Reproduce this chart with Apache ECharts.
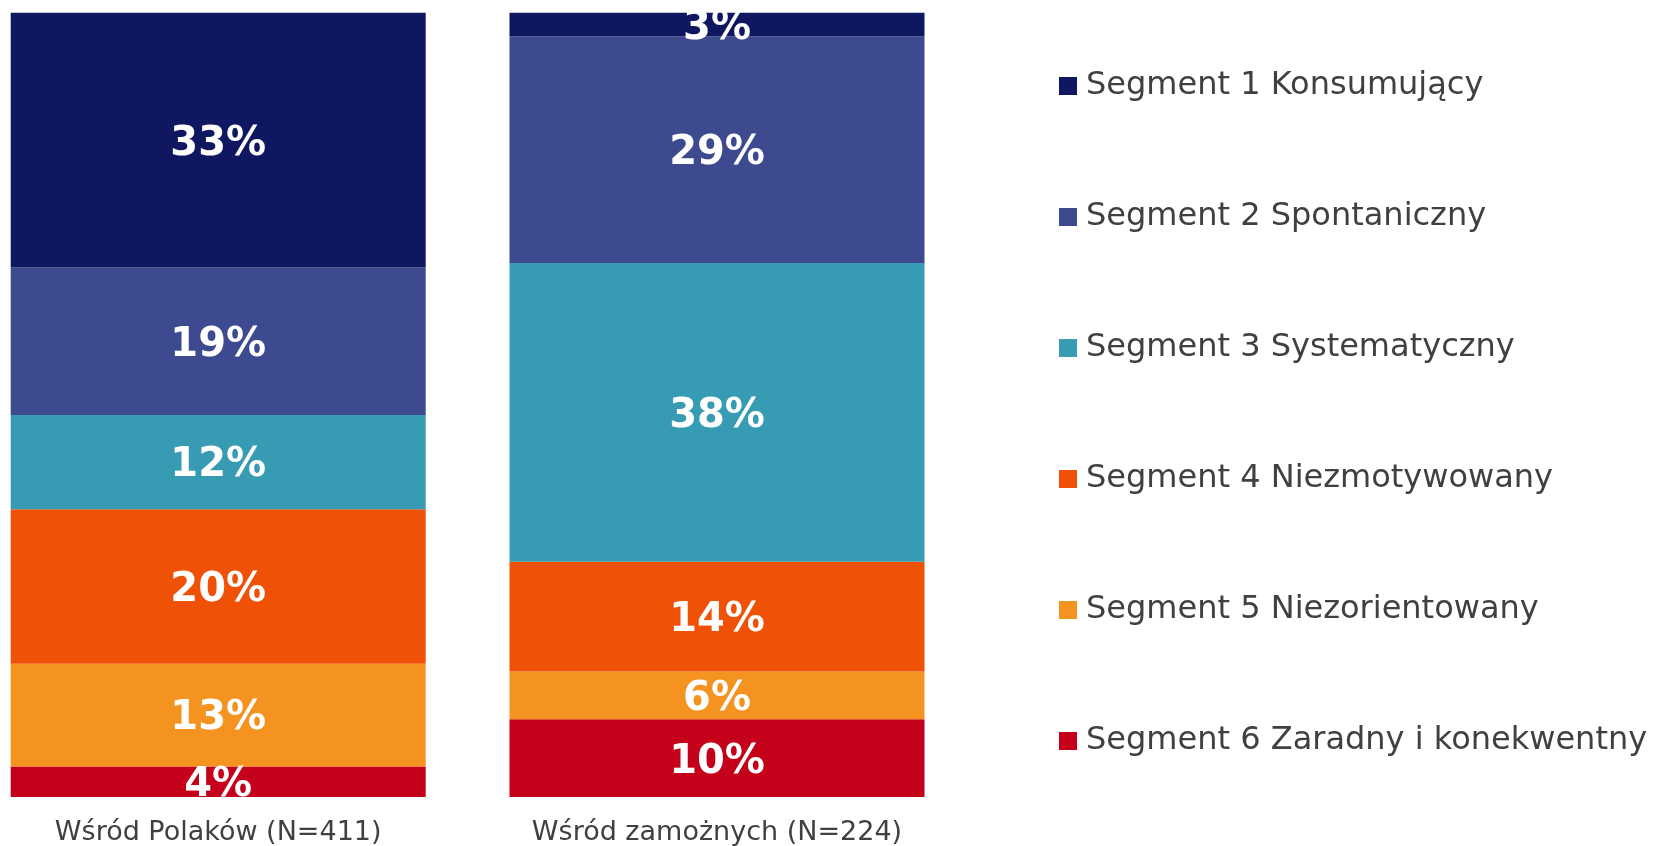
<!DOCTYPE html>
<html>
<head>
<meta charset="utf-8">
<script src="https://cdn.jsdelivr.net/npm/echarts@6/dist/echarts.min.js"></script>
<style>
html,body{margin:0;padding:0;background:#fff;}
#chart{width:1655px;height:846px;}
</style>
</head>
<body>
<div id="chart"></div>
<script>
var categories = ['Wśród Polaków (N=411)', 'Wśród zamożnych (N=224)'];
var segmentNames = ['Segment 1 Konsumujący', 'Segment 2 Spontaniczny', 'Segment 3 Systematyczny', 'Segment 4 Niezmotywowany', 'Segment 5 Niezorientowany', 'Segment 6 Zaradny i konekwentny'];
var segment1 = [32.6, 3.0];
var segment2 = [18.8, 28.9];
var segment3 = [12.0, 38.1];
var segment4 = [19.7, 14.0];
var segment5 = [13.1, 6.1];
var segment6 = [3.9, 9.9];
var segmentColors = ['#0f1760', '#3e4a90', '#379cb3', '#ef5206', '#f59321', '#c4001a'];

var allData = [segment1, segment2, segment3, segment4, segment5, segment6];
var series = [];
for (var i = allData.length - 1; i >= 0; i--) {
  series.push({
    name: segmentNames[i],
    type: 'bar',
    stack: 'total',
    barWidth: 415,
    data: allData[i],
    itemStyle: { color: segmentColors[i] },
    label: {
      show: true,
      position: 'inside',
      offset: [0, 4],
      color: '#ffffff',
      fontFamily: 'DejaVu Sans',
      fontWeight: 'bold',
      fontSize: 40,
      formatter: function (p) { return Math.round(p.value) + '%'; }
    }
  });
}

var chart = echarts.init(document.getElementById('chart'));
chart.setOption({
  animation: false,
  backgroundColor: '#ffffff',
  grid: { left: 218.2, top: 12.7, width: 498.8, bottom: 49, containLabel: false, outerBoundsMode: 'none' },
  xAxis: {
    type: 'category',
    data: categories,
    boundaryGap: false,
    axisLine: { show: false },
    axisTick: { show: false },
    splitLine: { show: false },
    axisLabel: { margin: 22, color: '#404040', fontFamily: 'DejaVu Sans', fontSize: 27 }
  },
  yAxis: {
    type: 'value',
    min: 0,
    max: 100,
    show: false,
    splitLine: { show: false }
  },
  legend: {
    orient: 'vertical',
    left: 1059,
    top: 70,
    padding: 0,
    icon: 'rect',
    itemWidth: 18,
    itemHeight: 18,
    itemGap: 99,
    data: segmentNames,
    textStyle: { color: '#404040', fontFamily: 'DejaVu Sans', fontSize: 32, lineHeight: 31, padding: [0, 0, 0, 4] }
  },
  series: series
});
</script>
</body>
</html>
